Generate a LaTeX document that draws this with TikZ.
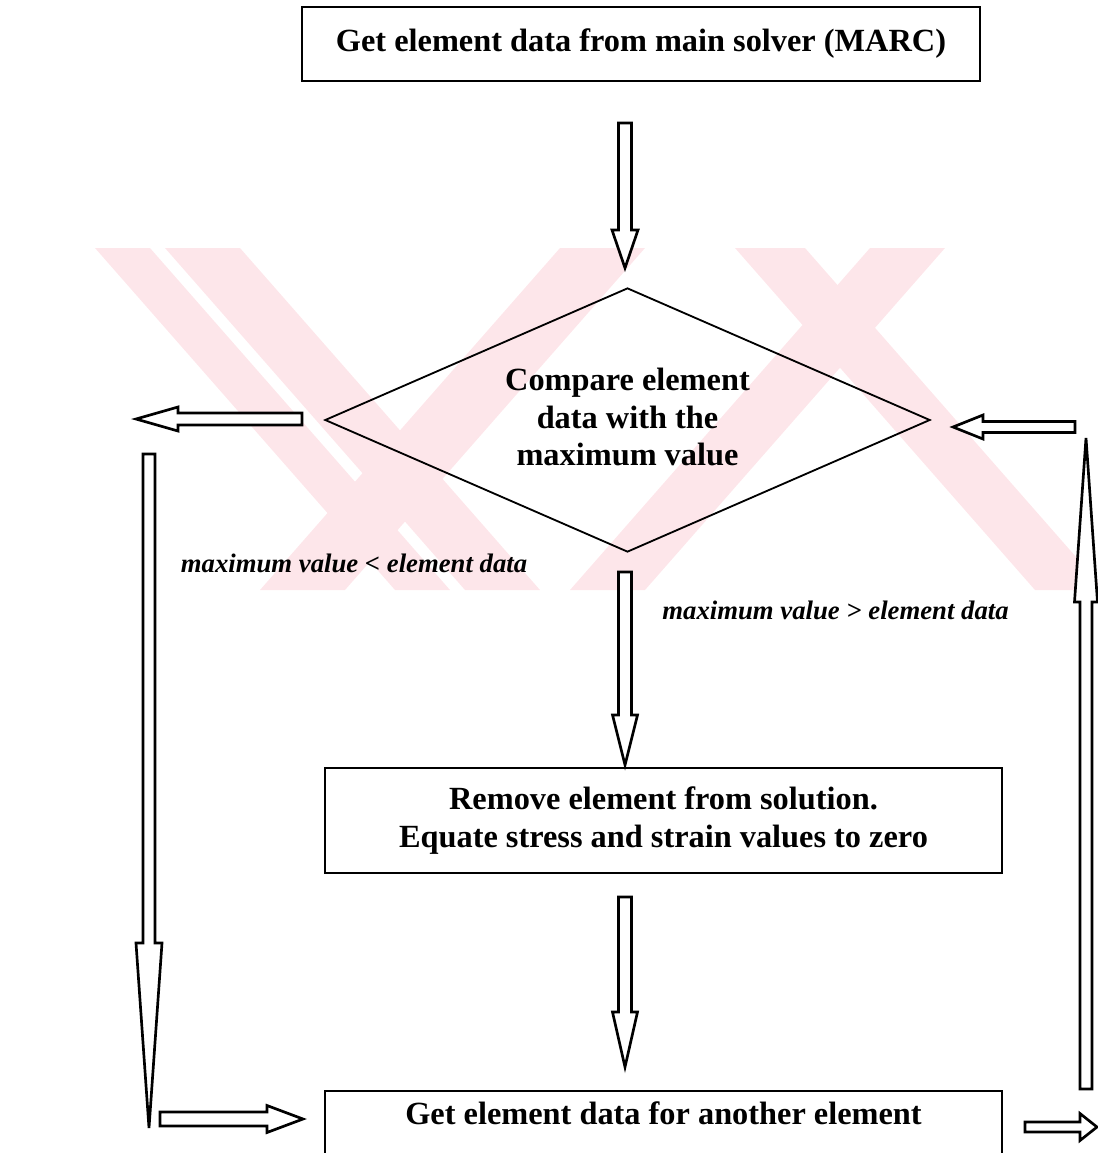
\documentclass[tikz,border=0pt]{standalone}
\usepackage{fontspec}
\setmainfont{Liberation Serif}
\usetikzlibrary{shapes.geometric,calc}
\definecolor{wmpink}{RGB}{253,230,234}

% hollow block arrow: tail, tip, shaft half width, head half width, head length (in px)
\newcommand{\blockarrow}[5]{%
  \draw[barrow] let \p1=($(#2)-(#1)$), \n1={atan2(\y1,\x1)}, \n2={veclen(\x1,\y1)} in
    [shift={(#1)}, rotate=\n1]
    (0pt,{#3*0.7113pt}) -- ({(\n2-#5*0.7113)*1pt},{#3*0.7113pt})
    -- ({(\n2-#5*0.7113)*1pt},{#4*0.7113pt}) -- ({\n2*1pt},0pt)
    -- ({(\n2-#5*0.7113)*1pt},{-#4*0.7113pt}) -- ({(\n2-#5*0.7113)*1pt},{-#3*0.7113pt})
    -- (0pt,{-#3*0.7113pt}) -- cycle;}

\begin{document}
\begin{tikzpicture}[x=0.025cm, y=-0.025cm,
    box/.style={draw, line width=1.3pt, rectangle, inner sep=0pt, align=center,
      font=\fontsize{23}{26.5}\selectfont\bfseries},
    decision/.style={draw, line width=1.3pt, diamond, aspect=2.3, inner sep=0pt, align=center,
      minimum width=15.125cm, minimum height=6.6cm, font=\fontsize{23}{26.5}\selectfont\bfseries},
    cond/.style={font=\fontsize{19}{22}\selectfont\bfseries\itshape},
    barrow/.style={draw, line width=1.9pt, line join=miter, fill=white}]
    \path[use as bounding box, clip] (0,0) rectangle (1098,1153);

    % watermark
    \foreach \a/\w/\d in {95/55/300, 165/75/300, 560/85/-300, 735/70/300, 870/75/-300}
      \fill[wmpink] (\a,248) -- ({\a+\w},248) -- ({\a+\w+\d},590) -- ({\a+\d},590) -- cycle;

    \node[box, minimum width=16.95cm, minimum height=1.85cm] (marc) at (641,44) {Get element data from main solver (MARC)};
    \node[decision] (cmp) at (627.5,420) {};
    \node[align=center, font=\fontsize{23}{26.5}\selectfont\bfseries] (cmptxt) at (627.5,417) {Compare element\\ data with the\\ maximum value};
    \node[box, minimum width=16.925cm, minimum height=2.625cm] (remove) at (663.5,820.5) {Remove element from solution.\\ Equate stress and strain values to zero};
    \node[box, anchor=north, minimum width=16.925cm, text height=0.5cm, text depth=1.6cm, inner ysep=0.35cm] (next) at (663.5,1090) {Get element data for another element};

    \node[cond] (less) at (354,563) {maximum value < element data};
    \node[cond] (more) at (835.5,610) {maximum value > element data};

    \coordinate (a1s) at (625,123);  \coordinate (a1e) at (625,268);
    \coordinate (a2s) at (625,572);  \coordinate (a2e) at (625,765);
    \coordinate (a3s) at (625,897);  \coordinate (a3e) at (625,1067);
    \coordinate (lfs) at (302,419);  \coordinate (lfe) at (136,419);
    \coordinate (rts) at (1075,427); \coordinate (rte) at (953,427);
    \coordinate (lds) at (149,454);  \coordinate (lde) at (149,1128);
    \coordinate (rus) at (1086,1089); \coordinate (rue) at (1086,438);
    \coordinate (bls) at (160,1119); \coordinate (ble) at (303,1119);
    \coordinate (brs) at (1025,1127); \coordinate (bre) at (1097,1127);

    \blockarrow{a1s}{a1e}{6.5}{13}{38}
    \blockarrow{a2s}{a2e}{6.5}{12.5}{50}
    \blockarrow{a3s}{a3e}{6.5}{12.5}{55}
    \blockarrow{lfs}{lfe}{6}{12}{42}
    \blockarrow{rts}{rte}{5.5}{12}{30}
    \blockarrow{lds}{lde}{6}{13}{185}
    \blockarrow{rus}{rue}{6}{11.5}{164}
    \blockarrow{bls}{ble}{7}{13.5}{36}
    \blockarrow{brs}{bre}{5}{13.5}{17}
\end{tikzpicture}
\end{document}
